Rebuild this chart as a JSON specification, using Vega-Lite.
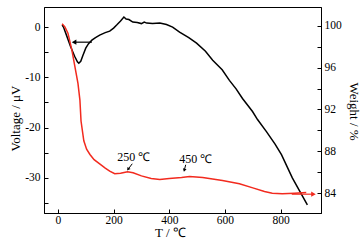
{
  "$schema": "https://vega.github.io/schema/vega-lite/v6.json",
  "width": 277,
  "height": 206,
  "autosize": {"type": "none"},
  "padding": {"left": 44, "top": 7, "right": 43, "bottom": 29},
  "background": "white",
  "config": {
    "view": {"stroke": "black", "strokeWidth": 1},
    "font": "Liberation Serif",
    "text": {"font": "Liberation Serif"},
    "axis": {
      "grid": false,
      "labelFont": "Liberation Serif",
      "labelFontSize": 11.5,
      "labelColor": "black",
      "labelOverlap": false,
      "titleFont": "Liberation Serif",
      "titleFontSize": 13,
      "titleFontWeight": "normal",
      "titleColor": "black",
      "domainColor": "black",
      "tickColor": "black",
      "tickSize": -4,
      "tickWidth": 1,
      "domainWidth": 1
    }
  },
  "datasets": {
    "dta": [
      {"T": 15, "V": 0.4}, {"T": 20, "V": 0}, {"T": 30, "V": -1.5}, {"T": 45, "V": -3.8},
      {"T": 60, "V": -5.8}, {"T": 70, "V": -6.9}, {"T": 75, "V": -7.2}, {"T": 82, "V": -6.8},
      {"T": 90, "V": -5.6}, {"T": 100, "V": -4.2}, {"T": 110, "V": -3.3}, {"T": 122, "V": -2.6},
      {"T": 135, "V": -2.1}, {"T": 150, "V": -1.6}, {"T": 170, "V": -1.1}, {"T": 186, "V": -0.8},
      {"T": 200, "V": -0.2}, {"T": 211, "V": 0.4}, {"T": 225, "V": 1.2}, {"T": 237, "V": 2.0},
      {"T": 245, "V": 1.6}, {"T": 255, "V": 1.5}, {"T": 269, "V": 1.0}, {"T": 285, "V": 0.9},
      {"T": 300, "V": 0.7}, {"T": 310, "V": 1.0}, {"T": 319, "V": 0.8}, {"T": 340, "V": 0.7},
      {"T": 366, "V": 0.8}, {"T": 390, "V": 0.5}, {"T": 412, "V": 0}, {"T": 437, "V": -1.0},
      {"T": 470, "V": -2.1}, {"T": 498, "V": -3.2}, {"T": 530, "V": -4.8}, {"T": 556, "V": -6.6},
      {"T": 590, "V": -8.5}, {"T": 616, "V": -10.6}, {"T": 640, "V": -12.3}, {"T": 663, "V": -14.2},
      {"T": 699, "V": -16.8}, {"T": 717, "V": -18.4}, {"T": 749, "V": -20.8}, {"T": 780, "V": -23.3},
      {"T": 803, "V": -25.4}, {"T": 842, "V": -30.0}, {"T": 870, "V": -32.8}, {"T": 896, "V": -35.4}
    ],
    "tg": [
      {"T": 15, "W": 100.2}, {"T": 25, "W": 99.9}, {"T": 36, "W": 99.3}, {"T": 50, "W": 97.7},
      {"T": 61, "W": 96.1}, {"T": 72, "W": 94.5}, {"T": 79, "W": 92.9}, {"T": 83, "W": 90.9},
      {"T": 93, "W": 89.0}, {"T": 103, "W": 88.2}, {"T": 115, "W": 87.7}, {"T": 130, "W": 87.2},
      {"T": 150, "W": 86.8}, {"T": 170, "W": 86.4}, {"T": 186, "W": 86.1}, {"T": 204, "W": 85.85},
      {"T": 225, "W": 85.9}, {"T": 250, "W": 86.05}, {"T": 270, "W": 85.95}, {"T": 300, "W": 85.65},
      {"T": 335, "W": 85.4}, {"T": 366, "W": 85.3}, {"T": 400, "W": 85.4}, {"T": 444, "W": 85.5},
      {"T": 473, "W": 85.6}, {"T": 520, "W": 85.5}, {"T": 591, "W": 85.2}, {"T": 652, "W": 84.9},
      {"T": 700, "W": 84.5}, {"T": 742, "W": 84.15}, {"T": 770, "W": 84.0}, {"T": 806, "W": 83.95},
      {"T": 850, "W": 84.0}, {"T": 892, "W": 84.07}
    ],
    "labels": [
      {"T": 272, "V": -25.8, "text": "250 ℃"},
      {"T": 495, "V": -26.2, "text": "450 ℃"}
    ],
    "pointers": [
      {"T1": 267, "V1": -27.2, "T2": 252, "V2": -28.3, "angle": 35},
      {"T1": 459, "V1": -27.4, "T2": 454, "V2": -28.5, "angle": 15}
    ],
    "arrowDta": [{"T1": 62, "T2": 122, "V": -3, "Th": 58}],
    "arrowTg": [{"T1": 840, "T2": 915, "W": 83.9, "Th": 918}]
  },
  "layer": [
    {
      "data": {"name": "dta"},
      "mark": {"type": "line", "color": "black", "strokeWidth": 1.5},
      "encoding": {
        "x": {
          "field": "T", "type": "quantitative",
          "scale": {"domain": [-50, 945], "nice": false, "zero": false},
          "axis": {
            "title": "T / ℃",
            "values": [0, 100, 200, 300, 400, 500, 600, 700, 800, 900],
            "labelExpr": "datum.value % 200 == 0 ? '' + datum.value : ''",
            "labelOverlap": false,
            "labelPadding": 5,
            "titleX": 126,
            "titleY": 19,
            "titleBaseline": "middle",
            "titleAlign": "center"
          }
        },
        "y": {
          "field": "V", "type": "quantitative",
          "scale": {"domain": [-37, 4], "nice": false, "zero": false},
          "axis": {
            "title": "Voltage / μV",
            "orient": "left",
            "values": [-35, -30, -25, -20, -15, -10, -5, 0],
            "labelExpr": "datum.value % 10 == 0 ? '' + datum.value : ''",
            "labelOverlap": false,
            "labelPadding": 8,
            "titleX": -29,
            "titleY": 111,
            "titleAngle": -90,
            "titleBaseline": "middle",
            "titleAlign": "center"
          }
        }
      }
    },
    {
      "data": {"name": "arrowDta"},
      "mark": {"type": "rule", "color": "black", "strokeWidth": 1.2},
      "encoding": {
        "x": {"field": "T1", "type": "quantitative", "scale": {"domain": [-50, 945], "nice": false, "zero": false}},
        "x2": {"field": "T2"},
        "y": {"field": "V", "type": "quantitative", "scale": {"domain": [-37, 4], "nice": false, "zero": false}, "axis": null}
      }
    },
    {
      "data": {"name": "arrowDta"},
      "mark": {"type": "point", "shape": "triangle-left", "filled": true, "color": "black", "size": 28, "opacity": 1},
      "encoding": {
        "x": {"field": "Th", "type": "quantitative", "scale": {"domain": [-50, 945], "nice": false, "zero": false}},
        "y": {"field": "V", "type": "quantitative", "scale": {"domain": [-37, 4], "nice": false, "zero": false}, "axis": null}
      }
    },
    {
      "data": {"name": "labels"},
      "mark": {"type": "text", "font": "Liberation Serif", "fontSize": 12, "color": "black", "align": "center", "baseline": "middle"},
      "encoding": {
        "x": {"field": "T", "type": "quantitative", "scale": {"domain": [-50, 945], "nice": false, "zero": false}},
        "y": {"field": "V", "type": "quantitative", "scale": {"domain": [-37, 4], "nice": false, "zero": false}, "axis": null},
        "text": {"field": "text"}
      }
    },
    {
      "data": {"name": "pointers"},
      "mark": {"type": "rule", "color": "black", "strokeWidth": 1},
      "encoding": {
        "x": {"field": "T1", "type": "quantitative", "scale": {"domain": [-50, 945], "nice": false, "zero": false}},
        "x2": {"field": "T2"},
        "y": {"field": "V1", "type": "quantitative", "scale": {"domain": [-37, 4], "nice": false, "zero": false}, "axis": null},
        "y2": {"field": "V2"}
      }
    },
    {
      "data": {"name": "pointers"},
      "mark": {"type": "point", "shape": "triangle-down", "filled": true, "color": "black", "size": 14, "opacity": 1},
      "encoding": {
        "x": {"field": "T2", "type": "quantitative", "scale": {"domain": [-50, 945], "nice": false, "zero": false}},
        "y": {"field": "V2", "type": "quantitative", "scale": {"domain": [-37, 4], "nice": false, "zero": false}, "axis": null},
        "angle": {"field": "angle", "type": "quantitative", "scale": null}
      }
    },
    {
      "data": {"name": "tg"},
      "mark": {"type": "line", "color": "#f22a1e", "strokeWidth": 1.5},
      "encoding": {
        "x": {"field": "T", "type": "quantitative", "scale": {"domain": [-50, 945], "nice": false, "zero": false}},
        "y": {
          "field": "W", "type": "quantitative",
          "scale": {"domain": [82.1, 101.8], "nice": false, "zero": false},
          "axis": {
            "title": "Weight / %",
            "orient": "right",
            "values": [84, 86, 88, 90, 92, 94, 96, 98, 100],
            "labelExpr": "datum.value % 4 == 0 ? '' + datum.value : ''",
            "labelOverlap": false,
            "labelPadding": 7,
            "titleX": 32,
            "titleY": 104,
            "titleAngle": 90,
            "titleBaseline": "middle",
            "titleAlign": "center"
          }
        }
      }
    },
    {
      "data": {"name": "arrowTg"},
      "mark": {"type": "rule", "color": "#f22a1e", "strokeWidth": 1.2},
      "encoding": {
        "x": {"field": "T1", "type": "quantitative", "scale": {"domain": [-50, 945], "nice": false, "zero": false}},
        "x2": {"field": "T2"},
        "y": {"field": "W", "type": "quantitative", "scale": {"domain": [82.1, 101.8], "nice": false, "zero": false}, "axis": null}
      }
    },
    {
      "data": {"name": "arrowTg"},
      "mark": {"type": "point", "shape": "triangle-right", "filled": true, "color": "#f22a1e", "size": 28, "opacity": 1},
      "encoding": {
        "x": {"field": "Th", "type": "quantitative", "scale": {"domain": [-50, 945], "nice": false, "zero": false}},
        "y": {"field": "W", "type": "quantitative", "scale": {"domain": [82.1, 101.8], "nice": false, "zero": false}, "axis": null}
      }
    }
  ],
  "resolve": {"scale": {"y": "independent"}}
}
